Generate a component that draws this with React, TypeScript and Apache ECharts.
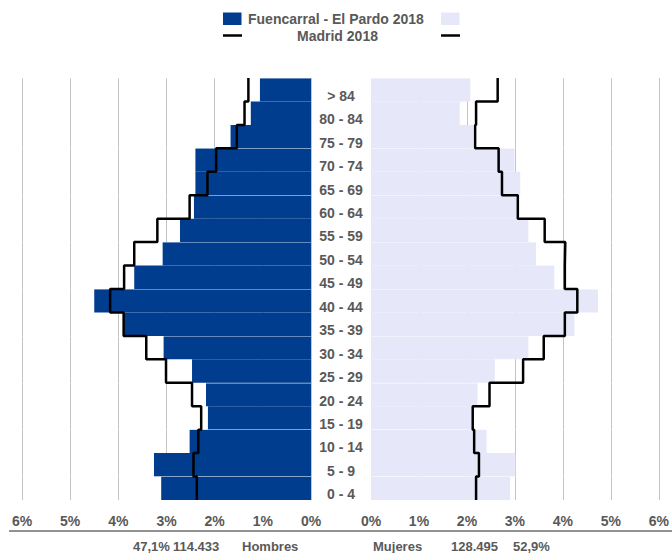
import React, { useEffect, useRef } from "react";
import * as echarts from "echarts";

// Age groups, bottom to top
const categories = [
  "0 - 4", "5 - 9", "10 - 14", "15 - 19", "20 - 24", "25 - 29", "30 - 34", "35 - 39", "40 - 44",
  "45 - 49", "50 - 54", "55 - 59", "60 - 64", "65 - 69", "70 - 74", "75 - 79", "80 - 84", "> 84",
];

// Fuencarral - El Pardo 2018 (% of population)
const menDistrict = [3.11, 3.26, 2.52, 2.14, 2.18, 2.47, 3.06, 3.88, 4.5, 3.67, 3.08, 2.72, 2.43, 2.4, 2.4, 1.67, 1.25, 1.06];
const womenDistrict = [2.9, 3.01, 2.41, 2.1, 2.22, 2.58, 3.28, 4.24, 4.73, 3.82, 3.44, 3.28, 3.05, 3.11, 2.99, 2.13, 1.85, 2.07];

// Madrid 2018 (% of population)
const menMadrid = [2.37, 2.44, 2.34, 2.28, 2.47, 3.01, 3.42, 3.89, 4.17, 3.88, 3.67, 3.19, 2.52, 2.15, 1.97, 1.54, 1.38, 1.3];
const womenMadrid = [2.19, 2.25, 2.15, 2.12, 2.47, 3.17, 3.6, 4.04, 4.3, 4.04, 4.05, 3.62, 3.06, 2.73, 2.66, 2.17, 2.19, 2.64];

const xTicks = [0, 1, 2, 3, 4, 5, 6];

const legendDistrict = "Fuencarral - El Pardo 2018";
const legendMadrid = "Madrid 2018";
const menTotals = ["47,1%", "114.433", "Hombres"];
const womenTotals = ["Mujeres", "128.495", "52,9%"];

const BLUE = "#003d8e";
const LAVENDER = "#e6e8fa";
const TEXT = "#595959";
const FONT = "'Liberation Sans', Arial, sans-serif";

function steps(values: number[]) {
  const pts: number[][] = [];
  values.forEach((v, i) => {
    pts.push([v, i]);
    pts.push([v, i + 1]);
  });
  return pts;
}

export default function App() {
  const ref = useRef<HTMLDivElement>(null);

  useEffect(() => {
    if (!ref.current) return;
    const chart = echarts.init(ref.current, null, { renderer: "svg" });

    const labelStyle = { color: TEXT, fontWeight: "bold" as const, fontSize: 14, fontFamily: FONT };
    const sepLine = {
      show: true,
      interval: (i: number) => i % 2 === 1 && i < 17,
      lineStyle: { color: "rgba(255,255,255,0.4)", width: 1 },
    };
    const xAxisBase = {
      type: "value" as const,
      min: xTicks[0],
      max: xTicks[xTicks.length - 1],
      interval: 1,
      axisLine: { show: false },
      axisTick: { show: false },
      axisLabel: { ...labelStyle, formatter: "{value}%", margin: 14 },
      splitLine: { show: true, lineStyle: { color: "#c4c4c4", width: 1 } },
    };
    const bottomText = (x: number, text: string) => ({
      type: "text",
      x,
      y: 546,
      style: { text, fill: TEXT, font: `bold 13px ${FONT}`, verticalAlign: "middle" },
    });

    chart.setOption({
      animation: false,
      grid: [
        { left: 22, right: 361, top: 78, bottom: 53 },
        { left: 371, right: 12, top: 78, bottom: 53 },
      ],
      xAxis: [
        { ...xAxisBase, gridIndex: 0, inverse: true },
        { ...xAxisBase, gridIndex: 1 },
      ],
      yAxis: [
        {
          gridIndex: 0,
          type: "category",
          data: categories,
          position: "right",
          z: 3,
          axisLine: { show: false },
          axisTick: { show: false },
          axisLabel: { ...labelStyle, align: "center", margin: 30, verticalAlign: "top", lineHeight: 12 },
          splitLine: sepLine,
        },
        {
          gridIndex: 1,
          type: "category",
          data: categories,
          z: 3,
          axisLine: { show: false },
          axisTick: { show: false },
          axisLabel: { show: false },
          splitLine: sepLine,
        },
        { gridIndex: 0, type: "value", min: 0, max: categories.length, show: false },
        { gridIndex: 1, type: "value", min: 0, max: categories.length, show: false },
      ],
      series: [
        {
          name: legendDistrict,
          type: "bar",
          xAxisIndex: 0,
          yAxisIndex: 0,
          data: menDistrict,
          barCategoryGap: "0%",
          itemStyle: { color: BLUE },
        },
        {
          name: legendDistrict + " (M)",
          type: "bar",
          xAxisIndex: 1,
          yAxisIndex: 1,
          data: womenDistrict,
          barCategoryGap: "0%",
          itemStyle: { color: LAVENDER },
        },
        {
          name: legendMadrid,
          type: "line",
          xAxisIndex: 0,
          yAxisIndex: 2,
          data: steps(menMadrid),
          symbol: "none",
          z: 5,
          lineStyle: { color: "#000", width: 2.5 },
        },
        {
          name: legendMadrid + " (M)",
          type: "line",
          xAxisIndex: 1,
          yAxisIndex: 3,
          data: steps(womenMadrid),
          symbol: "none",
          z: 5,
          lineStyle: { color: "#000", width: 2.5 },
        },
      ],
      graphic: [
        { type: "rect", shape: { x: 223, y: 12.5, width: 18.5, height: 12.5 }, style: { fill: BLUE } },
        {
          type: "text", x: 248, y: 19,
          style: { text: legendDistrict, fill: TEXT, font: `bold 14px ${FONT}`, verticalAlign: "middle" },
        },
        { type: "rect", shape: { x: 441, y: 12.5, width: 18.5, height: 12.5 }, style: { fill: LAVENDER } },
        { type: "line", shape: { x1: 223, y1: 35.5, x2: 242, y2: 35.5 }, style: { stroke: "#000", lineWidth: 2.5 } },
        {
          type: "text", x: 337.5, y: 36,
          style: { text: legendMadrid, fill: TEXT, font: `bold 14px ${FONT}`, align: "center", verticalAlign: "middle" },
        },
        { type: "line", shape: { x1: 441, y1: 35.5, x2: 460, y2: 35.5 }, style: { stroke: "#000", lineWidth: 2.5 } },
        { type: "line", shape: { x1: 9, y1: 531, x2: 672, y2: 531 }, style: { stroke: "#6e6e6e", lineWidth: 1.5 } },
        bottomText(133, menTotals[0]),
        bottomText(173, menTotals[1]),
        bottomText(242, menTotals[2]),
        bottomText(373, womenTotals[0]),
        bottomText(451, womenTotals[1]),
        bottomText(513, womenTotals[2]),
      ],
    });

    return () => chart.dispose();
  }, []);

  return <div ref={ref} style={{ width: 672, height: 553, position: "absolute", left: 0, top: 0 }} />;
}
